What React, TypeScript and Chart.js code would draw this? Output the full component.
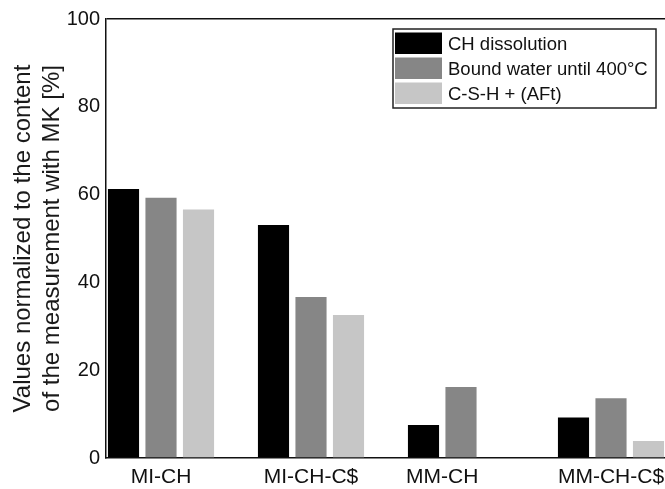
import React, { useEffect, useRef } from "react";
import { Chart, registerables } from "chart.js";

Chart.register(...registerables);

const categories = ["MI-CH", "MI-CH-C$", "MM-CH", "MM-CH-C$"];
const chDissolution = [61.3, 53.1, 7.5, 9.2];
const boundWater = [59.3, 36.7, 16.2, 13.6];
const cshAft: (number | null)[] = [56.6, 32.6, null, 3.9];
const seriesNames = ["CH dissolution", "Bound water until 400°C", "C-S-H + (AFt)"];
const seriesColors = ["#000000", "#868686", "#c6c6c6"];
const yTicks = [0, 20, 40, 60, 80, 100];
const yTitle = ["Values normalized to the content", "of the measurement with MK [%]"];

const FONT = "'Liberation Sans', Arial, sans-serif";

const toPoints = (vals: (number | null)[]) =>
  vals
    .map((v, i) => ({ x: i, y: v }))
    .filter((p) => p.y !== null && p.y !== undefined);

const labelsAndLegend = {
  id: "labelsAndLegend",
  afterDraw(chart: any) {
    const ctx = chart.ctx;
    const area = chart.chartArea;
    ctx.save();
    ctx.font = `21px ${FONT}`;
    ctx.fillStyle = "#111";
    ctx.textAlign = "center";
    ctx.textBaseline = "alphabetic";
    categories.forEach((cat, i) => {
      const xs: number[] = [];
      chart.data.datasets.forEach((ds: any, di: number) => {
        const meta = chart.getDatasetMeta(di);
        meta.data.forEach((el: any, k: number) => {
          if (ds.data[k].x === i) xs.push(el.x);
        });
      });
      const cx = xs.length
        ? xs.reduce((a, b) => a + b, 0) / xs.length
        : chart.scales.x.getPixelForValue(i);
      ctx.fillText(cat, cx, area.bottom + 25);
    });
    const boxRight = area.right - 9;
    const boxLeft = boxRight - 263;
    const boxTop = area.top + 10;
    const rowH = 25;
    const n = chart.data.datasets.length;
    const boxH = n * rowH + 4;
    ctx.fillStyle = "#fff";
    ctx.fillRect(boxLeft, boxTop, boxRight - boxLeft, boxH);
    ctx.strokeStyle = "#222";
    ctx.lineWidth = 1.5;
    ctx.strokeRect(boxLeft, boxTop, boxRight - boxLeft, boxH);
    ctx.font = `18.5px ${FONT}`;
    ctx.textAlign = "left";
    ctx.textBaseline = "middle";
    chart.data.datasets.forEach((ds: any, di: number) => {
      const top = boxTop + 3.5 + di * rowH;
      ctx.fillStyle = ds.backgroundColor;
      ctx.fillRect(boxLeft + 2, top, 47, 21.5);
      ctx.fillStyle = "#111";
      ctx.fillText(ds.label, boxLeft + 55, top + 12);
    });
    ctx.restore();
  },
};

export default function App() {
  const ref = useRef<HTMLCanvasElement | null>(null);
  useEffect(() => {
    if (!ref.current) return;
    const values = [chDissolution, boundWater, cshAft];
    const chart = new Chart(ref.current, {
      type: "bar",
      data: {
        datasets: values.map((vals, i) => ({
          label: seriesNames[i],
          data: toPoints(vals) as any,
          backgroundColor: seriesColors[i],
          borderWidth: 0,
          categoryPercentage: 0.75,
          barPercentage: 0.83,
        })),
      },
      options: {
        responsive: false,
        animation: false,
        layout: { padding: { top: 19, right: 0, left: 0, bottom: 0 } },
        plugins: { legend: { display: false }, tooltip: { enabled: false } },
        scales: {
          x: {
            type: "linear",
            offset: false,
            min: -0.3667,
            max: 3.36,
            afterBuildTicks: (scale: any) => {
              scale.ticks = categories.map((_, i) => ({ value: i }));
            },
            afterFit: (scale: any) => {
              scale.height = 31;
            },
            ticks: { display: false },
            grid: { display: false, drawTicks: false, offset: false },
            border: { display: true, color: "#111", width: 1.5 },
          },
          y: {
            min: 0,
            max: 100,
            afterBuildTicks: (scale: any) => {
              scale.ticks = yTicks.map((v) => ({ value: v }));
            },
            afterFit: (scale: any) => {
              scale.width = 106;
            },
            ticks: {
              padding: 6,
              color: "#111",
              font: { family: FONT, size: 20 },
            },
            grid: {
              drawTicks: false,
              lineWidth: 1.5,
              color: (c: any) => (c.tick && c.tick.value === 100 ? "#111" : "rgba(0,0,0,0)"),
            },
            border: { display: true, color: "#111", width: 1.5 },
            title: {
              display: true,
              text: yTitle,
              color: "#1a1a1a",
              font: { family: FONT, size: 24 },
              padding: { top: 9, bottom: 0 },
            },
          },
        },
      },
      plugins: [labelsAndLegend],
    });
    return () => chart.destroy();
  }, []);
  return (
    <div style={{ position: "fixed", left: 0, top: 0, width: 665, height: 489, background: "#fff" }}>
      <canvas ref={ref} width={665} height={489} />
    </div>
  );
}
